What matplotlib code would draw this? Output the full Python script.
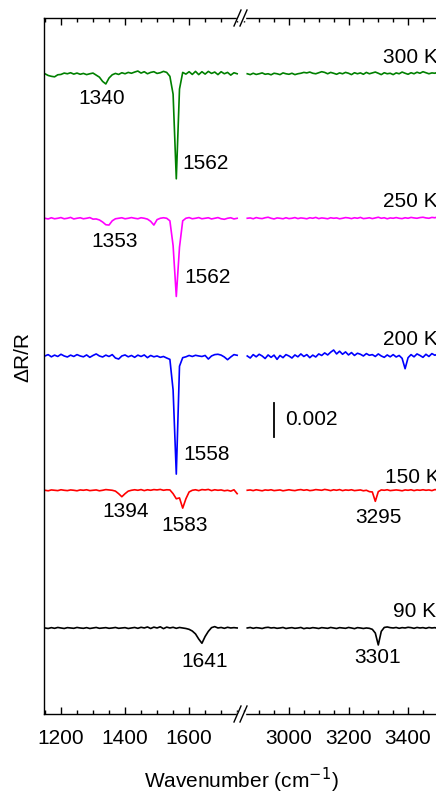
import numpy as np
import matplotlib
matplotlib.use("Agg")
import matplotlib.pyplot as plt
from matplotlib.lines import Line2D
from matplotlib.patches import Rectangle
from matplotlib.ticker import MultipleLocator

plt.rcParams["font.family"] = ["Liberation Sans", "DejaVu Sans"]
FS = 15

# wavenumber grids (cm-1) for the two halves of the broken axis
WN_LOW = np.arange(1150, 1751, 10)
WN_HIGH = np.arange(2860, 3501, 10)

TEMPS = ["300 K", "250 K", "200 K", "150 K", "90 K"]
COLORS = ["#008000", "#ff00ff", "#0000ff", "#ff0000", "#000000"]
OFFSETS = [0.0326, 0.0241, 0.0160, 0.0081, 0.0]   # vertical stacking of traces
UNIT = 1e-5                                        # spectra below are in 1e-5 dR/R
SCALE_BAR = 0.002

# ---- 1150-1750 cm-1 ----
low_300 = [0, -10, -15, -18, -6, -4, 4, 0, 6, -2,
           4, -3, 2, -5, 0, 4, -8, -20, -45, -60,
           -25, -6, 2, -4, 6, 0, 8, 3, 10, 16,
           4, 12, 0, 8, 12, 2, 6, 14, 8, -15,
           -120, -618, -90, 8, -2, 12, -4, 14, -5, 12,
           -2, 14, 2, 10, -5, 12, 0, 8, -8, 6,
           0]
low_250 = [0, -4, 3, -3, 0, 4, -3, 0, 5, -4,
           0, 3, -3, 0, 4, -5, -4, -10, -22, -38,
           -40, -15, -3, 0, 3, -3, 0, 4, 0, -3,
           3, 0, -5, -18, -40, -8, 0, 3, 0, -15,
           -160, -460, -170, -15, 0, 4, -3, 0, 4, -3,
           0, 3, -4, 0, 4, -3, -6, 0, 3, -4,
           0]
low_200 = [0, 8, -5, 5, -3, 10, 0, -6, 5, -3,
           8, 0, -5, 6, -8, 3, 12, 0, -6, 5,
           -3, 8, -12, -18, 0, 6, -5, 3, -8, 5,
           -3, 6, -10, 3, -5, 0, -8, -3, -12, -20,
           -200, -695, -60, -10, -5, 3, -3, 4, 0, -3,
           3, -18, 0, 8, 10, 5, -6, -22, -6, 8,
           4]
low_150 = [0, -3, 2, 0, -2, 3, 0, -2, 2, 0,
           -3, 2, 0, 3, -2, 0, 2, -3, 0, 4,
           2, 0, -5, -20, -38, -20, -5, 0, 3, 0,
           4, -2, 3, 0, 4, 2, 5, 0, 3, 2,
           -20, -50, -45, -105, -50, -10, 0, 3, -2, 4,
           2, 5, -2, 3, 0, 2, -3, 0, -5, 3,
           -20]
low_90 = [0, -3, 2, -2, 3, 0, -3, 2, 0, -2,
          3, 0, -2, 2, -3, 0, 3, -2, 0, 2,
          -2, 0, 3, -2, 0, 2, -3, 0, 3, -2,
          4, 0, 6, -3, 5, 0, 7, -4, 5, 0,
          4, -2, 3, 0, -3, -8, -18, -35, -65, -90,
          -50, -20, 2, 8, 0, 3, -2, 4, 0, 2,
          0]

# ---- 2860-3500 cm-1 ----
high_300 = [0, -5, 3, -4, 0, 5, -3, 0, -6, 3,
            0, -5, 5, 0, -3, 3, -5, 0, 3, 8,
            5, 10, 3, 0, 6, 12, 8, 0, 8, 3,
            -3, 5, 0, 8, 3, -5, 6, 0, 5, -3,
            8, 0, 5, 10, 3, -5, 6, 0, 3, -5,
            5, 0, 10, 3, -3, 6, 0, 9, 3, 12,
            6, 0, 5, 3, 9]
high_250 = [0, 2, -3, 4, 0, -2, 3, 6, 0, -4,
            2, 0, -3, 3, -2, 0, 4, -2, 2, 0,
            -3, 3, 0, 5, -2, 2, 0, -3, 3, 0,
            2, -3, 0, 4, 2, -2, 3, 0, 5, -2,
            0, 3, -2, 2, 6, 0, 3, -3, 2, 0,
            4, 0, -2, 3, 0, 5, 2, 0, 4, 6,
            2, 0, 5, 3, 8]
high_200 = [0, -12, 8, -5, 10, 0, -15, 6, -8, 5,
            -20, 3, -10, 8, 0, -12, 6, -5, 12, -3,
            8, -10, 5, -6, 12, 3, 18, 6, 22, 35,
            12, 28, 10, 24, 6, 20, 3, 16, 10, 0,
            14, 4, 8, -3, 12, 0, -8, 6, -5, 8,
            -6, 3, -14, -75, -10, 8, -5, 12, 3, -8,
            10, -3, 14, 4, 12]
high_150 = [0, 2, -2, 3, 0, -3, 2, 0, 3, -2,
            0, 2, -3, 0, 3, 0, -2, 2, 4, 0,
            3, -2, 0, 4, 2, 0, 5, 2, -2, 3,
            0, 4, -2, 2, 0, 3, -2, 0, 2, -3,
            0, -8, -10, -65, -8, 2, 0, 3, -2, 0,
            2, 0, -3, 2, 0, 3, -2, 2, 0, 3,
            0, 2, -2, 4, 2]
high_90 = [0, 3, -2, 2, 0, -3, 2, 4, 0, 2,
           -2, 0, 3, -3, 0, 2, -2, 0, 3, -4,
           0, -2, 2, 0, -3, 2, 0, -2, 3, 0,
           -3, 2, 0, -2, 3, 0, -4, 2, 0, -3,
           0, -2, -8, -30, -100, -20, 3, 6, 2, 0,
           3, -2, 2, 0, 4, 2, -2, 3, 0, 2,
           -2, 3, 0, 2, -3]

LOW = [low_300, low_250, low_200, low_150, low_90]
HIGH = [high_300, high_250, high_200, high_150, high_90]

# peak labels: (text, axis, x, y, ha)
PEAK_LABELS = [
    ("1340", "low", 1328, 0.03112, "center"),
    ("1562", "low", 1578, 0.02735, "left"),
    ("1353", "low", 1369, 0.02271, "center"),
    ("1562", "low", 1584, 0.02059, "left"),
    ("1558", "low", 1581, 0.01018, "left"),
    ("1394", "low", 1403, 0.00688, "center"),
    ("1583", "low", 1587, 0.00600, "center"),
    ("3295", "high", 3302, 0.00647, "center"),
    ("1641", "low", 1650, -0.00200, "center"),
    ("3301", "high", 3296, -0.00176, "center"),
]
TEMP_LABEL_POS = [(3316, 0.03353), (3316, 0.02506), (3316, 0.01694),
                  (3322, 0.00888), (3350, 0.00094)]

W, H = 436, 792
fig = plt.figure(figsize=(W / 100, H / 100), dpi=100)
x0, xb, x1 = 44, 241, 445
yb, yt = 714, 18
ax_lo = fig.add_axes([x0 / W, 1 - yb / H, (xb - x0) / W, (yb - yt) / H])
ax_hi = fig.add_axes([xb / W, 1 - yb / H, (x1 - xb) / W, (yb - yt) / H])

ylim = (-0.00506, 0.03588)
for ax, wn, data, xlim in [(ax_lo, WN_LOW, LOW, (1147, 1762)),
                           (ax_hi, WN_HIGH, HIGH, (2839, 3524))]:
    for vals, off, c in zip(data, OFFSETS, COLORS):
        ax.plot(wn, np.array(vals) * UNIT + off, color=c, lw=1.2)
    ax.set_xlim(*xlim)
    ax.set_ylim(*ylim)
    ax.set_yticks([])
    ax.xaxis.set_major_locator(MultipleLocator(200))
    ax.xaxis.set_minor_locator(MultipleLocator(50))
    ax.tick_params(axis="x", which="both", direction="in", top=True, bottom=True,
                   labelsize=FS, pad=11, width=1.0)
    ax.tick_params(axis="x", which="major", length=5)
    ax.tick_params(axis="x", which="minor", length=3)
    for s in ax.spines.values():
        s.set_linewidth(1.0)

ax_lo.spines["right"].set_visible(False)
ax_hi.spines["left"].set_visible(False)
ax_hi.spines["right"].set_visible(False)
ax_lo.set_xticks([1200, 1400, 1600])
ax_hi.set_xticks([3000, 3200, 3400])

for (tx, ty), t in zip(TEMP_LABEL_POS, TEMPS):
    ax_hi.text(tx, ty, t, fontsize=FS, ha="left", va="center")
for txt, which, x, y, ha in PEAK_LABELS:
    a = ax_lo if which == "low" else ax_hi
    a.text(x, y, txt, fontsize=FS, ha=ha, va="center")

# scale bar
ax_hi.plot([2950, 2950], [0.01124, 0.01124 + SCALE_BAR], color="black", lw=1.3)
ax_hi.text(2987, 0.01124 + SCALE_BAR / 2, f"{SCALE_BAR:.3f}", fontsize=FS,
           ha="left", va="center")

# axis break marks
for ys in (yt, yb):
    fig.add_artist(Rectangle(((xb - 4) / W, 1 - (ys + 2) / H), 8 / W, 4 / H,
                             transform=fig.transFigure, color="white", zorder=10))
    for dx in (-7, -1):
        fig.add_artist(Line2D([(xb + dx) / W, (xb + dx + 7) / W],
                              [1 - (ys + 8) / H, 1 - (ys - 8) / H],
                              transform=fig.transFigure, color="black",
                              lw=1.0, zorder=11))

fig.text(23 / W, 1 - 357 / H, "ΔR/R", rotation=90, fontsize=FS,
         ha="center", va="center")
fig.text(xb / W, 1 - 780 / H, "Wavenumber (cm$^{-1}$)", fontsize=FS,
         ha="center", va="center")

fig.savefig("out.png", dpi=100)
